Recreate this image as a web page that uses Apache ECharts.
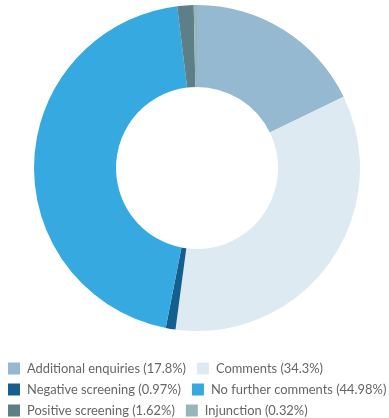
<!DOCTYPE html>
<html><head><meta charset="utf-8">
<script src="https://cdn.jsdelivr.net/npm/echarts@6/dist/echarts.min.js"></script>
<style>html,body{margin:0;padding:0;background:#fff}#c{width:389px;height:418px}</style>
</head><body><div id="c"></div>
<script>
const categories = ["Additional enquiries", "Comments", "Negative screening", "No further comments", "Positive screening", "Injunction"];
const values = [17.8, 34.3, 0.97, 44.98, 1.62, 0.32];
const colors = ["#94b9d1", "#deeaf2", "#155f8f", "#36a9e1", "#5c7f88", "#98b6ba"];
const legendRows = [
  ["Additional enquiries", "Comments"],
  ["Negative screening", "No further comments"],
  ["Positive screening", "Injunction"]
];
const rowTops = [362, 383, 404];

const chart = echarts.init(document.getElementById('c'), null, {renderer: 'canvas'});
const fmt = name => name + ' (' + values[categories.indexOf(name)] + '%)';
chart.setOption({
  animation: false,
  color: colors,
  legend: legendRows.map((row, i) => ({
    orient: 'horizontal', left: 8, top: rowTops[i], width: 600, itemWidth: 12, itemHeight: 12, itemGap: 11, padding: 0,
    icon: 'rect', formatter: fmt, data: row,
    textStyle: {fontFamily: 'Lato', fontSize: 12.9, color: '#666', padding: [0, 0, 0, 2]}
  })),
  series: [{
    type: 'pie',
    center: [197, 168],
    radius: [81, 163],
    startAngle: 90,
    clockwise: true,
    label: {show: false},
    labelLine: {show: false},
    emphasis: {disabled: true},
    data: categories.map((n, i) => ({name: n, value: values[i]}))
  }]
});
</script></body></html>
